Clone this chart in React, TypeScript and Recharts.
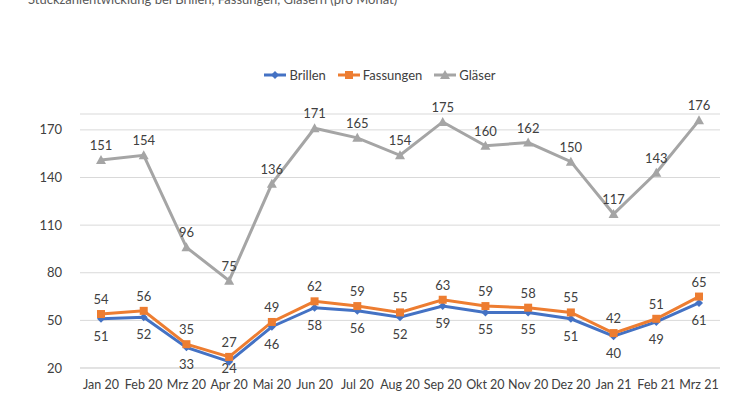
import React from 'react';
import {
  LineChart,
  Line,
  XAxis,
  YAxis,
  CartesianGrid,
  LabelList,
} from 'recharts';

// Monthly unit counts
const months = [
  'Jan 20', 'Feb 20', 'Mrz 20', 'Apr 20', 'Mai 20', 'Jun 20', 'Jul 20', 'Aug 20',
  'Sep 20', 'Okt 20', 'Nov 20', 'Dez 20', 'Jan 21', 'Feb 21', 'Mrz 21',
];
const brillen = [51, 52, 33, 24, 46, 58, 56, 52, 59, 55, 55, 51, 40, 49, 61];
const fassungen = [54, 56, 35, 27, 49, 62, 59, 55, 63, 59, 58, 55, 42, 51, 65];
const glaeser = [151, 154, 96, 75, 136, 171, 165, 154, 175, 160, 162, 150, 117, 143, 176];
const yTicks = [20, 50, 80, 110, 140, 170];

const data = months.map((m, i) => ({
  month: m,
  Brillen: brillen[i],
  Fassungen: fassungen[i],
  Gläser: glaeser[i],
}));

const FONT = 'Lato, "DejaVu Sans", sans-serif';
const BLUE = '#4472C4';
const ORANGE = '#ED7D31';
const GRAY = '#A5A5A5';

const renderDiamond = (props: any) => {
  const { cx, cy, index } = props;
  if (cx == null || cy == null) return <g key={`d-${index}`} />;
  const s = 4;
  return (
    <path key={`d-${index}`} d={`M${cx},${cy - s} L${cx + s},${cy} L${cx},${cy + s} L${cx - s},${cy} Z`} fill={BLUE} />
  );
};
const renderSquare = (props: any) => {
  const { cx, cy, index } = props;
  if (cx == null || cy == null) return <g key={`s-${index}`} />;
  return <rect key={`s-${index}`} x={cx - 4} y={cy - 4} width={8} height={8} fill={ORANGE} />;
};
const renderTriangle = (props: any) => {
  const { cx, cy, index } = props;
  if (cx == null || cy == null) return <g key={`t-${index}`} />;
  return <path key={`t-${index}`} d={`M${cx},${cy - 5} L${cx + 5},${cy + 4} L${cx - 5},${cy + 4} Z`} fill={GRAY} />;
};

const legendItems = [
  { name: 'Brillen', color: BLUE, marker: 'diamond' },
  { name: 'Fassungen', color: ORANGE, marker: 'square' },
  { name: 'Gläser', color: GRAY, marker: 'triangle' },
];

const labelStyle = { fontFamily: FONT, fontSize: 13, fill: '#404040' };

// labels below the blue line, kept above the x-axis tick labels
const renderBelowLabel = (props: any) => {
  const { x, y, value, index } = props;
  if (x == null || y == null) return null;
  const ty = Math.min(y + 17, 368);
  return (
    <text key={`bl-${index}`} x={x} y={ty} textAnchor="middle" dominantBaseline="central" {...labelStyle}>
      {value}
    </text>
  );
};

export default function App() {
  return (
    <div style={{ position: 'absolute', left: 0, top: 0, width: 750, height: 395, background: '#fff', overflow: 'hidden' }}>
      <div
        style={{
          position: 'absolute',
          left: 28,
          top: -9,
          fontFamily: FONT,
          fontSize: 13,
          color: '#595959',
          whiteSpace: 'nowrap',
        }}
      >
        Stückzahlentwicklung bei Brillen, Fassungen, Gläsern (pro Monat)
      </div>
      <div
        style={{
          position: 'absolute',
          top: 67,
          left: 0,
          width: 760,
          display: 'flex',
          justifyContent: 'center',
          gap: 12,
          fontFamily: FONT,
          fontSize: 13,
          color: '#404040',
        }}
      >
        {legendItems.map((it) => (
          <div key={it.name} style={{ display: 'flex', alignItems: 'center' }}>
            <svg width={22} height={10} style={{ marginRight: 3 }}>
              <line x1={0} y1={5} x2={22} y2={5} stroke={it.color} strokeWidth={3} />
              {it.marker === 'diamond' && <path d="M11,1 L15,5 L11,9 L7,5 Z" fill={it.color} />}
              {it.marker === 'square' && <rect x={7} y={1} width={8} height={8} fill={it.color} />}
              {it.marker === 'triangle' && <path d="M11,0 L16,9 L6,9 Z" fill={it.color} />}
            </svg>
            <span>{it.name}</span>
          </div>
        ))}
      </div>
      <LineChart width={750} height={395} data={data} margin={{ top: 114, right: 30, bottom: 7, left: 10 }}>
        <CartesianGrid vertical={false} stroke="#D9D9D9" />
        <XAxis
          dataKey="month"
          axisLine={{ stroke: '#D9D9D9' }}
          tickLine={false}
          tick={{ fontFamily: FONT, fontSize: 12.5, fill: '#404040' }}
          interval={0}
          height={20}
          tickMargin={6}
          padding={{ left: 21, right: 21 }}
        />
        <YAxis
          domain={[20, 180]}
          ticks={yTicks}
          axisLine={false}
          tickLine={false}
          width={70}
          tick={{ fontFamily: FONT, fontSize: 13, fill: '#404040' }}
          tickMargin={12}
        />
        <Line
          type="linear"
          dataKey="Brillen"
          stroke={BLUE}
          strokeWidth={3}
          dot={renderDiamond}
          activeDot={false}
          isAnimationActive={false}
        >
          <LabelList dataKey="Brillen" content={renderBelowLabel} />
        </Line>
        <Line
          type="linear"
          dataKey="Fassungen"
          stroke={ORANGE}
          strokeWidth={3}
          dot={renderSquare}
          activeDot={false}
          isAnimationActive={false}
        >
          <LabelList dataKey="Fassungen" position="top" offset={10} style={labelStyle} />
        </Line>
        <Line
          type="linear"
          dataKey="Gläser"
          stroke={GRAY}
          strokeWidth={3}
          dot={renderTriangle}
          activeDot={false}
          isAnimationActive={false}
        >
          <LabelList dataKey="Gläser" position="top" offset={10} style={labelStyle} />
        </Line>
      </LineChart>
    </div>
  );
}
